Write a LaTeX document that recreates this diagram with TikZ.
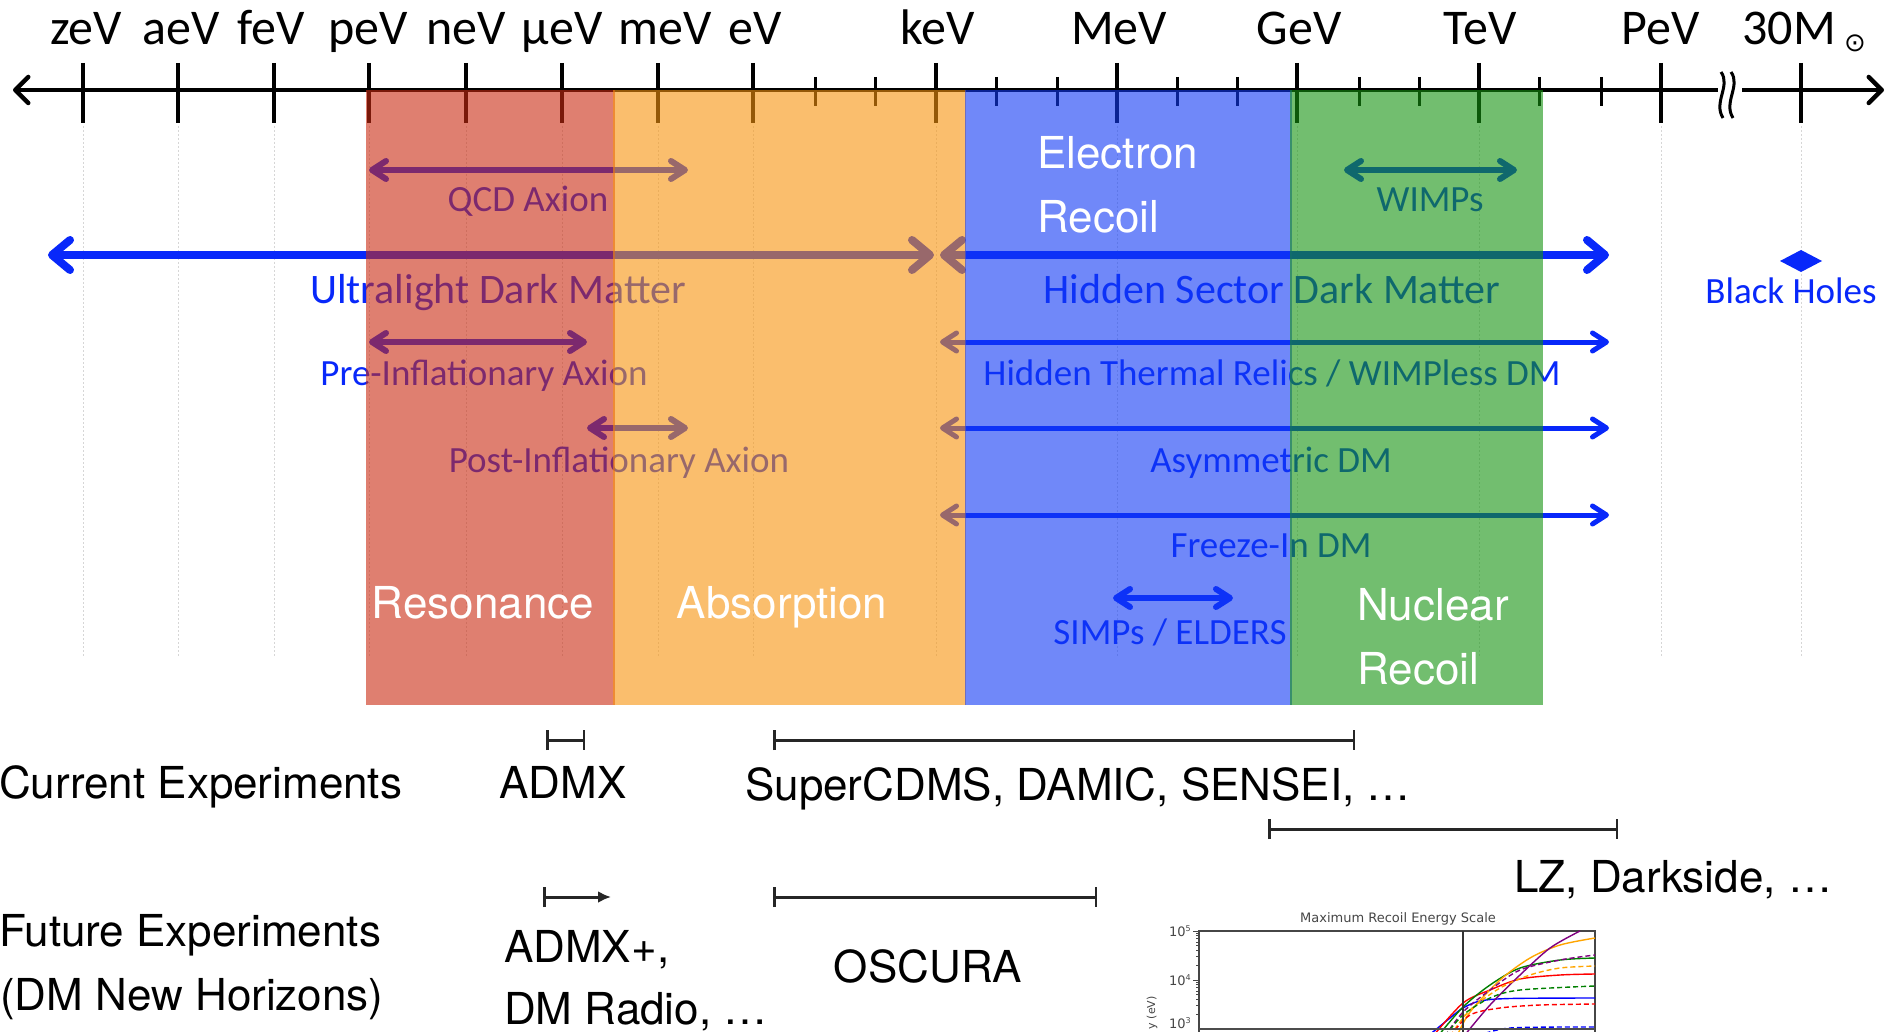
\documentclass[tikz,border=0pt]{standalone}
\usepackage{fontspec}
\usetikzlibrary{arrows.meta}
\newfontfamily\carlito{Carlito}
\newfontfamily\heros{TeX Gyre Heros}
\newfontfamily\dejavu{DejaVu Sans}
\definecolor{dmblue}{RGB}{8,40,250}
\definecolor{regred}{RGB}{202,43,17}
\definecolor{regorange}{RGB}{248,148,13}
\definecolor{regblue}{RGB}{17,58,245}
\definecolor{reggreen}{RGB}{20,148,15}
\definecolor{plotgray}{RGB}{70,70,70}
\definecolor{mplpurple}{RGB}{128,0,128}
\definecolor{mplorange}{RGB}{255,165,0}
\definecolor{mplgreen}{RGB}{0,128,0}
\definecolor{mplred}{RGB}{255,0,0}
\definecolor{mplblue}{RGB}{0,0,255}
\tikzset{
  axislbl/.style={font=\carlito\fontsize{50}{55}\selectfont, anchor=base, inner sep=0pt},
  majtick/.style={line width=3.5pt},
  mintick/.style={line width=3pt},
  gridln/.style={draw=black!16, line width=1pt, dash pattern=on 2pt off 2pt},
  axisline/.style={line width=4.5pt, {Straight Barb[length=13pt,width=26pt,round]}-{Straight Barb[length=13pt,width=26pt,round]}},
  dmarrL/.style={draw=dmblue, line width=8pt, {Straight Barb[length=18pt,width=30pt,round]}-{Straight Barb[length=18pt,width=30pt,round]}},
  dmarrM/.style={draw=dmblue, line width=6pt, {Straight Barb[length=14pt,width=18pt,round]}-{Straight Barb[length=14pt,width=18pt,round]}},
  dmarrS/.style={draw=dmblue, line width=5pt, {Straight Barb[length=14pt,width=18pt,round]}-{Straight Barb[length=14pt,width=18pt,round]}},
  lblS/.style={font=\carlito\fontsize{37}{40}\selectfont, text=dmblue, anchor=base, inner sep=0pt},
  lblL/.style={font=\carlito\fontsize{42}{46}\selectfont, text=dmblue, anchor=base, inner sep=0pt},
  reglbl/.style={font=\heros\fontsize{44}{48}\selectfont, text=white, anchor=base west, inner sep=0pt},
  regc/.style={font=\heros\fontsize{44}{48}\selectfont, text=white, anchor=base, inner sep=0pt},
  explbl/.style={font=\heros\fontsize{44}{48}\selectfont, text=black, anchor=base west, inner sep=0pt},
  expbar/.style={draw=black!85, line width=3pt, {Bar[width=20pt,line width=2.5pt]}-{Bar[width=20pt,line width=2.5pt]}},
  expfut/.style={draw=black!85, line width=3pt, {Bar[width=20pt,line width=2.5pt]}-{Latex[length=13pt,width=12pt]}},
  region/.style={fill opacity=0.6},
  plotc/.style={line width=1.4pt},
  plotd/.style={line width=1.4pt, dash pattern=on 5pt off 3pt},
  plottxt/.style={font=\dejavu\fontsize{13}{14}\selectfont, text=plotgray, inner sep=0pt}
}
\begin{document}
\begin{tikzpicture}[x=1pt,y=-1pt]
\useasboundingbox (0,0) rectangle (1887,1032);
\fill[white] (0,0) rectangle (1887,1032);

% grid lines
\foreach \x in {83,178,274,369,466,562,658,753,936,1117,1297,1479,1661,1801}
  \draw[gridln] (\x,126) -- (\x,656);

% axis
\coordinate (axL) at (13,90);
\coordinate (axR) at (1884,90);
\draw[axisline] (axL) -- (axR);
\foreach \x in {83,178,274,369,466,562,658,753,936,1117,1297,1479,1661,1801}
  \draw[majtick] (\x,63) -- (\x,123);
\foreach \x in {815,875,996,1057,1177,1237,1359,1419,1539,1601}
  \draw[mintick] (\x,77) -- (\x,106);
% axis break
\fill[white] (1718,76) rectangle (1742,104);
\draw[line width=3pt] (1721,72) .. controls (1731,86) and (1713,102) .. (1723,118);
\draw[line width=3pt] (1731,72) .. controls (1741,86) and (1723,102) .. (1733,118);

% axis labels
\node[axislbl] (lzev) at (86,45) {zeV};
\node[axislbl] (laev) at (181,45) {aeV};
\node[axislbl] (lfev) at (271,45) {feV};
\node[axislbl] (lpev) at (368,45) {peV};
\node[axislbl] (lnev) at (466,45) {neV};
\node[axislbl] (luev) at (562,45) {μeV};
\node[axislbl] (lmev) at (665,45) {meV};
\node[axislbl] (lev) at (755,45) {eV};
\node[axislbl] (lkev) at (938,45) {keV};
\node[axislbl] (lMev) at (1119,45) {MeV};
\node[axislbl] (lGev) at (1299,45) {GeV};
\node[axislbl] (lTev) at (1480,45) {TeV};
\node[axislbl] (lPev) at (1661,45) {PeV};
\node[axislbl] (l30m) at (1789,45) {30M};
\node[font=\dejavu\fontsize{26}{26}\selectfont, inner sep=0pt] (lsun) at (1855,43) {⊙};

% dark matter candidate arrows
\coordinate (qcdL) at (369,170);   \coordinate (qcdR) at (688,170);
\draw[dmarrM] (qcdL) -- (qcdR);
\node[lblS] (qcd) at (528,212) {QCD Axion};

\coordinate (wimpL) at (1344,170); \coordinate (wimpR) at (1517,170);
\draw[dmarrM] (wimpL) -- (wimpR);
\node[lblS] (wimp) at (1430,212) {WIMPs};

\coordinate (ulL) at (48,255);     \coordinate (ulR) at (934,255);
\draw[dmarrL] (ulL) -- (ulR);
\node[lblL] (ul) at (498,304) {Ultralight Dark Matter};

\coordinate (hsL) at (940,255);    \coordinate (hsR) at (1609,255);
\draw[dmarrL] (hsL) -- (hsR);
\node[lblL] (hs) at (1272,304) {Hidden Sector Dark Matter};

\fill[dmblue] (1780,261) -- (1801,250) -- (1822,261) -- (1801,272) -- cycle;
\node[lblS] (bh) at (1791,304) {Black Holes};

\coordinate (preL) at (369,342);   \coordinate (preR) at (587,342);
\draw[dmarrM] (preL) -- (preR);
\node[lblS] (pre) at (484,385) {Pre-Inflationary Axion};

\coordinate (htL) at (940,342);    \coordinate (htR) at (1609,342);
\draw[dmarrS] (htL) -- (htR);
\node[lblS] (ht) at (1272,385) {Hidden Thermal Relics / WIMPless DM};

\coordinate (postL) at (587,428);  \coordinate (postR) at (688,428);
\draw[dmarrM] (postL) -- (postR);
\node[lblS] (post) at (619,472) {Post-Inflationary Axion};

\coordinate (asL) at (940,428);    \coordinate (asR) at (1609,428);
\draw[dmarrS] (asL) -- (asR);
\node[lblS] (as) at (1271,472) {Asymmetric DM};

\coordinate (fiL) at (940,515);    \coordinate (fiR) at (1609,515);
\draw[dmarrS] (fiL) -- (fiR);
\node[lblS] (fi) at (1271,557) {Freeze-In DM};

\coordinate (simpL) at (1113,598); \coordinate (simpR) at (1233,598);
\draw[dmarrM] (simpL) -- (simpR);
\node[lblS] (simp) at (1170,644) {SIMPs / ELDERS};

% detection regions
\fill[regred, region] (366,90) rectangle (615,705);
\fill[regorange, region] (613,90) rectangle (966,705);
\fill[regblue, region] (965,90) rectangle (1292,705);
\fill[reggreen, region] (1290,90) rectangle (1543,705);

\node[reglbl] (er1) at (1037,169) {Electron};
\node[reglbl] (er2) at (1037,233) {Recoil};
\node[regc] (res) at (483,618) {Resonance};
\node[regc] (abs) at (782,618) {Absorption};
\node[reglbl] (nr1) at (1357,620) {Nuclear};
\node[reglbl] (nr2) at (1357,684) {Recoil};

% experiments
\node[explbl] (cur) at (-1,798) {Current Experiments};
\node[explbl] (fut1) at (-1,946) {Future Experiments};
\node[explbl] (fut2) at (0,1010) {(DM New Horizons)};

\coordinate (admxL) at (546,740);  \coordinate (admxR) at (585,740);
\draw[expbar] (admxL) -- (admxR);
\node[explbl, anchor=base] (admx) at (563,798) {ADMX};

\coordinate (scL) at (773,740);    \coordinate (scR) at (1355,740);
\draw[expbar] (scL) -- (scR);
\node[explbl] (sc) at (745,800) {SuperCDMS, DAMIC, SENSEI, …};

\coordinate (lzL) at (1268,829);   \coordinate (lzR) at (1618,829);
\draw[expbar] (lzL) -- (lzR);
\node[explbl] (lz) at (1514,892) {LZ, Darkside, …};

\coordinate (admxpL) at (543,897); \coordinate (admxpR) at (611,897);
\draw[expfut] (admxpL) -- (admxpR);
\node[explbl] (admxp1) at (504,962) {ADMX+,};
\node[explbl] (admxp2) at (504,1024) {DM Radio, …};

\coordinate (oscL) at (773,897);   \coordinate (oscR) at (1097,897);
\draw[expbar] (oscL) -- (oscR);
\node[explbl, anchor=base] (osc) at (928,982) {OSCURA};

% small recoil energy plot
\node[plottxt] (ptitle) at (1398,919) {Maximum Recoil Energy Scale};
\draw[plotgray, line width=1.2pt] (1199,1040) -- (1199,931) -- (1595,931) -- (1595,1040);
\foreach \d in {0,49} {
  \foreach \k in {2,3,4,5,6,7,8,9}
    \draw[plotgray, line width=0.6pt] (1196,{980+\d-49*log10(\k)}) -- (1199,{980+\d-49*log10(\k)});
}
\draw[plotgray, line width=0.8pt] (1193,931) -- (1199,931);
\draw[plotgray, line width=0.8pt] (1193,980) -- (1199,980);
\node[plottxt, anchor=east] (t5) at (1191,931) {10\raisebox{5pt}{\fontsize{8}{8}\selectfont 5}};
\node[plottxt, anchor=east] (t4) at (1191,980) {10\raisebox{5pt}{\fontsize{8}{8}\selectfont 4}};
\node[plottxt, anchor=east] (t3) at (1191,1023) {10\raisebox{5pt}{\fontsize{8}{8}\selectfont 3}};
\node[plottxt, font=\dejavu\fontsize{11}{12}\selectfont, rotate=90, anchor=east] (ylab) at (1152,996) {y (eV)};

\draw[mplblue, plotc] plot[smooth] coordinates {(1428,1036) (1450,1018) (1463,1008) (1480,1001) (1510,998.5) (1595,998)};
\draw[mplred, plotc] plot[smooth] coordinates {(1433,1036) (1463,1003) (1490,990) (1520,979) (1560,975) (1595,974)};
\draw[mplgreen, plotc] plot[smooth] coordinates {(1438,1036) (1463,1007) (1490,985) (1520,968) (1560,960) (1595,958)};
\draw[mplorange, plotc] plot[smooth] coordinates {(1457,1036) (1470,1012) (1500,980) (1530,958) (1560,945) (1595,938)};
\draw[mplpurple, plotc] plot[smooth] coordinates {(1464,1036) (1490,1005) (1520,975) (1550,948) (1580,931)};
\draw[mplpurple, plotd] plot[smooth] coordinates {(1445,1036) (1463,1012) (1490,990) (1520,970) (1560,960) (1595,955)};
\draw[mplorange, plotd] plot[smooth] coordinates {(1450,1036) (1470,1010) (1500,988) (1530,975) (1560,968) (1595,966)};
\draw[mplgreen, plotd] plot[smooth] coordinates {(1445,1036) (1463,1015) (1490,998) (1520,990) (1595,986)};
\draw[mplred, plotd] plot[smooth] coordinates {(1450,1036) (1470,1015) (1500,1008) (1540,1005) (1595,1004)};
\draw[mplblue, plotd] plot[smooth] coordinates {(1478,1036) (1510,1028) (1595,1027)};

\draw[black!80, line width=1.5pt] (1463,931) -- (1463,1040);
\draw[black!70, line width=2.5pt] (1199,1029) -- (1595,1029);
\end{tikzpicture}
\end{document}
